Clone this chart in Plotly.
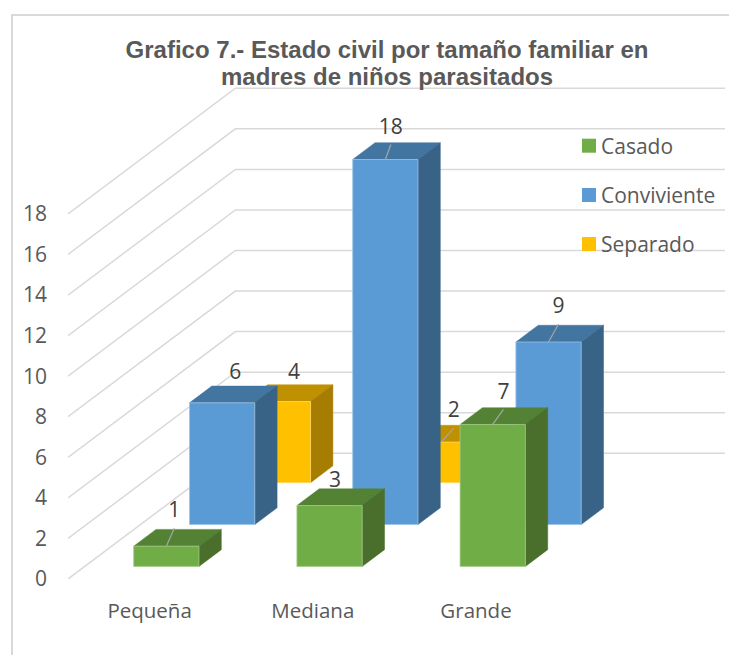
import plotly.graph_objects as go

categories = ["Pequeña", "Mediana", "Grande"]
series_names = ["Casado", "Conviviente", "Separado"]
casado = [1, 3, 7]
conviviente = [6, 18, 9]
separado = [4, 2, None]
y_ticks = [0, 2, 4, 6, 8, 10, 12, 14, 16, 18]

title_lines = ["Grafico 7.- Estado civil por tamaño familiar en", "madres de niños parasitados"]

# front, top, side, edge colour per series
colors = {
    "Casado": ("#70AD47", "#548235", "#4A6E2B", "#A3CC87"),
    "Conviviente": ("#5B9BD5", "#4375A1", "#396386", "#9DC3E6"),
    "Separado": ("#FFC000", "#BF9000", "#A67D00", "#FFD966"),
}

# Page geometry, in pixels.
W, H = 729, 655
PLOT_L, PLOT_R, PLOT_T, PLOT_B = 68, 726, 60, 579
CAT_PX = 163.2   # one category along x
UNIT_PX = 20.28  # one value unit along y
DEPTH_X = 55.8   # one series row into the picture
DEPTH_Y = 41.9

# Excel 3-D look: oblique projection, z counts series rows from the front.
BAR_WIDTH = 0.4
BAR_DEPTH = 0.4
N_ROWS = 3

TEXT_SIZE = 21


def project(x, v, z):
    return x + z * DEPTH_X / CAT_PX, v + z * DEPTH_Y / UNIT_PX


def polygon(points, fill, edge, width=1):
    xs, ys = zip(*[project(*p) for p in points + points[:1]])
    return go.Scatter(
        x=xs, y=ys, mode="lines", fill="toself", fillcolor=fill,
        line=dict(color=edge, width=width), hoverinfo="skip", showlegend=False,
    )


fig = go.Figure()

# Walls: each tick runs back along the left wall, then right along the back wall.
for tick in y_ticks:
    pts = [project(-0.5, tick, 0), project(-0.5, tick, N_ROWS), project(2.5, tick, N_ROWS)]
    fig.add_trace(go.Scatter(
        x=[p[0] for p in pts], y=[p[1] for p in pts], mode="lines",
        line=dict(color="#D9D9D9", width=1.5), hoverinfo="skip", showlegend=False,
    ))

series_values = [casado, conviviente, separado]

# Back row first so the front rows cover it.
for row in reversed(range(N_ROWS)):
    front, top, side, edge = colors[series_names[row]]
    for i, v in enumerate(series_values[row]):
        if v is None:
            continue
        x0, x1 = i - BAR_WIDTH / 2, i + BAR_WIDTH / 2
        z0 = row + (1 - BAR_DEPTH) / 2
        z1 = z0 + BAR_DEPTH
        fig.add_trace(polygon([(x0, v, z0), (x1, v, z0), (x1, v, z1), (x0, v, z1)], top, top, 0.5))
        fig.add_trace(polygon([(x1, 0, z0), (x1, 0, z1), (x1, v, z1), (x1, v, z0)], side, side, 0.5))
        fig.add_trace(polygon([(x0, 0, z0), (x1, 0, z0), (x1, v, z0), (x0, v, z0)], front, edge, 0.75))

# Data labels were moved by hand in the original, so each has its own nudge (px).
label_nudge = {
    (0, 0): (8, -34), (0, 1): (5.4, -24), (0, 2): (10.7, -31),
    (1, 0): (13, -29), (1, 1): (5.5, -31), (1, 2): (10, -34),
    (2, 0): (16, -28), (2, 1): (12.7, -30),
}
no_leader = [(0, 1), (1, 0), (2, 0)]

for (row, i), (dx, dy) in label_nudge.items():
    v = series_values[row][i]
    fx, fy = project(i, v, row + (1 - BAR_DEPTH) / 2)
    lx, ly = fx + dx / CAT_PX, fy - dy / UNIT_PX
    if (row, i) not in no_leader:
        fig.add_trace(go.Scatter(
            x=[fx, lx], y=[fy, ly - 16 / UNIT_PX], mode="lines",
            line=dict(color="#A6A6A6", width=1.2), hoverinfo="skip", showlegend=False,
        ))
    fig.add_trace(go.Scatter(
        x=[lx], y=[ly], mode="text", text=[str(v)], textposition="middle center",
        textfont=dict(family="Open Sans", size=TEXT_SIZE, color="#404040"),
        hoverinfo="skip", showlegend=False,
    ))


def paper_x(px):
    return (px - PLOT_L) / (PLOT_R - PLOT_L)


def paper_y(px):
    return (PLOT_B - px) / (PLOT_B - PLOT_T)


# Legend, built by hand: the swatch-to-text gap is tighter than a plotly legend allows.
legend_y = [145.7, 195, 244]
for name, y in zip(series_names, legend_y):
    fig.add_shape(
        type="rect", xref="paper", yref="paper", line_width=0, fillcolor=colors[name][0],
        x0=paper_x(582), x1=paper_x(596), y0=paper_y(y + 7), y1=paper_y(y - 7),
    )
    fig.add_annotation(
        text=name, xref="paper", yref="paper", x=paper_x(599), y=paper_y(y),
        xanchor="left", yanchor="middle", showarrow=False,
        font=dict(family="Open Sans", size=TEXT_SIZE, color="#595959"),
    )

# Chart frame, it runs off the page on the right and at the bottom.
fig.add_shape(
    type="rect", xref="paper", yref="paper", line=dict(color="#D9D9D9", width=2),
    x0=paper_x(12), x1=paper_x(W + 5), y0=paper_y(H + 5), y1=paper_y(15), layer="below",
)

fig.update_layout(
    width=W, height=H, autosize=False,
    margin=dict(l=PLOT_L, r=W - PLOT_R, t=PLOT_T, b=H - PLOT_B),
    paper_bgcolor="white", plot_bgcolor="white", showlegend=False,
    title=dict(
        text="<br>".join(f'<span style="font-size:24px">{t}</span>' for t in title_lines),
        font=dict(family="Liberation Sans", size=20.8, color="#595959", weight="bold"),
        x=387 / W, xanchor="center", y=1 - 58 / H, yanchor="top",
    ),
    xaxis=dict(
        range=[-0.5, -0.5 + (PLOT_R - PLOT_L) / CAT_PX],
        tickmode="array", tickvals=[0, 1, 2], ticktext=categories,
        showgrid=False, zeroline=False, showline=False, ticks="",
        ticklabelstandoff=17,
        tickfont=dict(family="Open Sans", size=20.5, color="#595959"),
    ),
    yaxis=dict(
        range=[0, (PLOT_B - PLOT_T) / UNIT_PX],
        tickmode="array", tickvals=y_ticks,
        showgrid=False, zeroline=False, showline=False, ticks="",
        ticklabelstandoff=20,
        tickfont=dict(family="Open Sans", size=TEXT_SIZE, color="#595959"),
    ),
)

fig.write_html("out.html", config=dict(displayModeBar=False),
               post_script="document.body.style.margin='0'")
